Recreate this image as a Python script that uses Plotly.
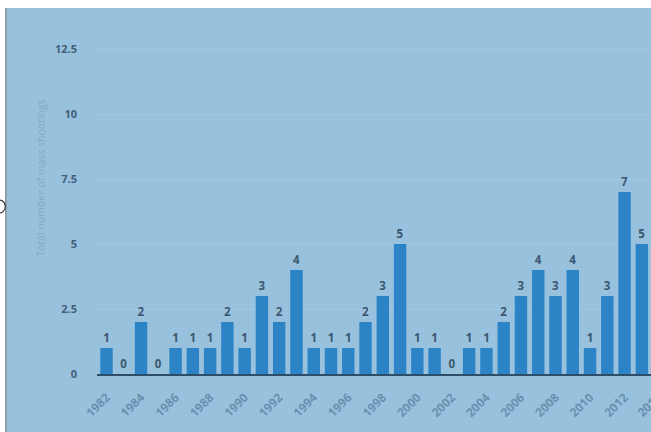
import plotly.graph_objects as go

# Mass shootings per year in the US, 1982-2013
years = list(range(1982, 2014))
shootings = [1, 0, 2, 0, 1, 1, 1, 2, 1, 3, 2, 4, 1, 1, 1, 2, 3, 5, 1, 1,
             0, 1, 1, 2, 3, 4, 3, 4, 1, 3, 7, 5]
tick_years = list(range(1982, 2014, 2))
tick_labels = [str(y) for y in tick_years]
edge_tick_year = 2014  # next tick, past the right end of the axis
y_ticks = [0, 2.5, 5, 7.5, 10, 12.5]
y_tick_labels = ["0", "2.5", "5", "7.5", "10", "12.5"]

X_RANGE = [1981.45, 2013.53]

BG = "#97c1dc"
BAR = "#2c84c7"
DARK = "#3b5870"
XTICK = "#6a90b0"
XFONT = dict(family="Open Sans", size=12, color=XTICK, weight="bold")

fig = go.Figure(
    go.Bar(
        x=years,
        y=shootings,
        width=0.72,
        marker=dict(color=BAR, line=dict(width=0)),
        text=[str(v) for v in shootings],
        textposition="outside",
        cliponaxis=False,
        textfont=dict(family="Open Sans", size=11.5, color=DARK, weight="bold"),
    )
)

# paper position of the tick just beyond the axis end
edge_x = (edge_tick_year - X_RANGE[0]) / (X_RANGE[1] - X_RANGE[0])

fig.update_layout(
    width=651,
    height=432,
    margin=dict(l=97, r=0, t=8, b=58),
    paper_bgcolor=BG,
    plot_bgcolor=BG,
    showlegend=False,
    xaxis=dict(
        range=X_RANGE,
        tickmode="array",
        tickvals=tick_years,
        ticktext=tick_labels,
        tickangle=-45,
        tickfont=XFONT,
        showgrid=False,
        zeroline=False,
        showline=True,
        linecolor="#2e4d66",
        linewidth=1.5,
        ticks="",
        ticklabelstandoff=10,
        fixedrange=True,
    ),
    yaxis=dict(
        range=[0, 14.08],
        tickmode="array",
        tickvals=y_ticks,
        ticktext=y_tick_labels,
        tickfont=dict(family="Open Sans", size=11, color="#435f78", weight="bold"),
        showgrid=True,
        gridcolor="#a2c8e1",
        gridwidth=1,
        zeroline=False,
        showline=False,
        ticks="",
        ticklabelstandoff=19,
        fixedrange=True,
    ),
    annotations=[
        dict(
            text="Total number of mass shootings",
            xref="paper", yref="paper",
            x=-0.1, y=0.535,
            xanchor="center", yanchor="middle",
            textangle=-90,
            showarrow=False,
            font=dict(family="Open Sans", size=10.5, color="#86a9c3"),
        ),
        # partially visible tick label at the right edge
        dict(
            text=str(edge_tick_year),
            xref="paper", yref="paper",
            x=edge_x, y=0,
            xanchor="center", yanchor="middle",
            xshift=-10, yshift=-30,
            textangle=-45,
            showarrow=False,
            font=XFONT,
        ),
    ],
    shapes=[
        # white margin strips along the top and left edge
        dict(type="rect", xref="paper", yref="paper",
             x0=-0.2, x1=1.05, y0=1.0, y1=1.05,
             fillcolor="white", line=dict(width=0), layer="above"),
        dict(type="rect", xref="paper", yref="paper",
             x0=-0.2, x1=-0.1656, y0=-0.2, y1=1.05,
             fillcolor="white", line=dict(width=0), layer="above"),
        dict(type="line", xref="paper", yref="paper",
             x0=-0.1645, x1=-0.1645, y0=-0.2, y1=1.0,
             line=dict(color="#8a8f94", width=1.5), layer="above"),
        # small round handle on the left edge
        dict(type="circle", xref="paper", yref="paper",
             x0=-0.1864, x1=-0.1655, y0=0.44, y1=0.475,
             fillcolor="white", line=dict(color="#3a3a3a", width=1.2),
             layer="above"),
    ],
)

fig.write_html("out.html")
